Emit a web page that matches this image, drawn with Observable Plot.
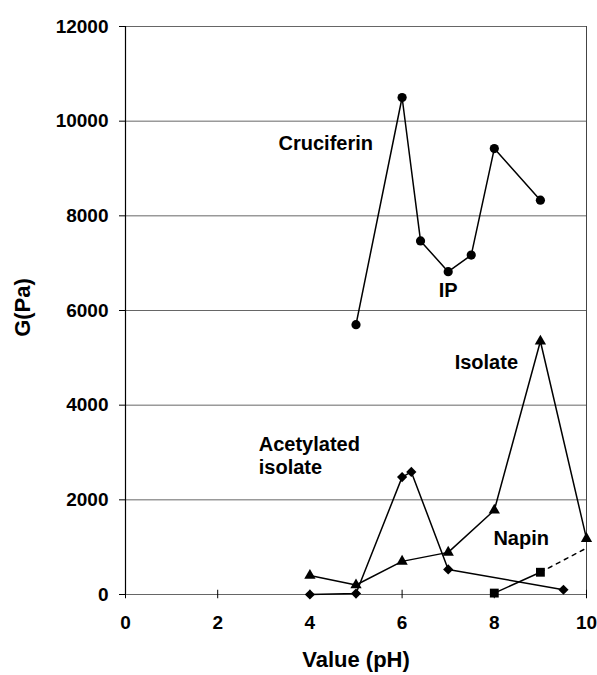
<!DOCTYPE html>
<html>
<head>
<meta charset="utf-8">
<script src="https://cdn.jsdelivr.net/npm/d3@7"></script>
<script src="https://cdn.jsdelivr.net/npm/@observablehq/plot@0.6"></script>
<style>
  html, body { margin: 0; padding: 0; background: #fff; }
</style>
</head>
<body>
<div id="chart"></div>
<script>
// ---- Data ----
const cruciferinPH = [5, 6, 6.4, 7, 7.5, 8, 9];
const cruciferinG  = [5700, 10500, 7470, 6820, 7170, 9420, 8330];

const isolatePH = [4, 5, 6, 7, 8, 9, 10];
const isolateG  = [400, 200, 700, 890, 1780, 5350, 1180];

const acetylatedPH = [4, 5, 6, 6.2, 7, 9.5];
const acetylatedG  = [0, 20, 2480, 2590, 530, 100];

const napinPH = [8, 9];
const napinG  = [30, 470];
const napinDashPH = [9, 10];
const napinDashG  = [470, 980];

const xTicks = [0, 2, 4, 6, 8, 10];
const yTicks = [0, 2000, 4000, 6000, 8000, 10000, 12000];

const labelTexts = ["Cruciferin", "IP", "Isolate", "Acetylated", "isolate", "Napin"];
const labelPH    = [3.32, 7.0, 7.14, 2.89, 2.89, 7.98];
const labelG     = [9530, 6420, 4900, 3170, 2680, 1180];
const labelAnchor = ["start", "middle", "start", "start", "start", "start"];

// ---- Build tables ----
const zip = (xs, ys) => xs.map((x, i) => ({x, y: ys[i]}));
const cruciferin = zip(cruciferinPH, cruciferinG);
const isolate = zip(isolatePH, isolateG);
const acetylated = zip(acetylatedPH, acetylatedG);
const napin = zip(napinPH, napinG);
const napinDash = zip(napinDashPH, napinDashG);
const labels = labelTexts.map((t, i) => ({t, x: labelPH[i], y: labelG[i], a: labelAnchor[i]}));

const font = "'Liberation Sans', Arial, Helvetica, sans-serif";
const lineOpts = {x: "x", y: "y", stroke: "black", strokeWidth: 1.5};
const labelOpts = {x: "x", y: "y", text: "t", fontSize: 20, fontWeight: "bold", fill: "black"};

const chart = Plot.plot({
  width: 597,
  height: 675,
  marginLeft: 125,
  marginRight: 11,
  marginTop: 26,
  marginBottom: 81,
  style: {fontFamily: font, fontWeight: "bold", fontSize: "19px", color: "black", background: "white", overflow: "visible"},
  x: {domain: [0, 10]},
  y: {domain: [0, 12000]},
  marks: [
    // gridlines and frame
    Plot.ruleY(yTicks, {stroke: "#555", strokeWidth: 0.9}),
    Plot.ruleX([10], {stroke: "#444", strokeWidth: 1}),
    Plot.ruleX([0], {stroke: "black", strokeWidth: 1.2}),
    Plot.ruleX(xTicks, {x: d => d, y1: -90, y2: 90, stroke: "black", strokeWidth: 1}),
    // axes
    Plot.axisY(yTicks, {tickSize: 6, tickPadding: 11, tickFormat: d3.format("d"), label: null, fontSize: 19, fontWeight: "bold", stroke: "black"}),
    Plot.axisX(xTicks, {tickSize: 0, tickPadding: 21, tickFormat: d3.format("d"), label: null, fontSize: 19, fontWeight: "bold"}),
    Plot.text(["Value (pH)"], {frameAnchor: "bottom", textAnchor: "middle", dy: 72, fontSize: 22, fontWeight: "bold", fill: "black"}),
    Plot.text(["G(Pa)"], {frameAnchor: "left", textAnchor: "middle", rotate: -90, dx: -103, dy: -3, fontSize: 22, fontWeight: "bold", fill: "black"}),
    // series lines
    Plot.line(cruciferin, lineOpts),
    Plot.line(isolate, lineOpts),
    Plot.line(acetylated, lineOpts),
    Plot.line(napin, lineOpts),
    Plot.line(napinDash, {...lineOpts, strokeDasharray: "4,5"}),
    // markers
    Plot.dot(cruciferin, {x: "x", y: "y", r: 4.6, fill: "black", symbol: "circle"}),
    Plot.dot(isolate, {x: "x", y: "y", r: 4.2, fill: "black", symbol: "triangle"}),
    Plot.dot(acetylated, {x: "x", y: "y", r: 4.6, fill: "black", symbol: "diamond2"}),
    Plot.dot(napin, {x: "x", y: "y", r: 5, fill: "black", symbol: "square"}),
    // labels
    Plot.text(labels.filter(d => d.a === "start"), {...labelOpts, textAnchor: "start"}),
    Plot.text(labels.filter(d => d.a === "middle"), {...labelOpts, textAnchor: "middle"})
  ]
});

document.getElementById("chart").appendChild(chart);
</script>
</body>
</html>
